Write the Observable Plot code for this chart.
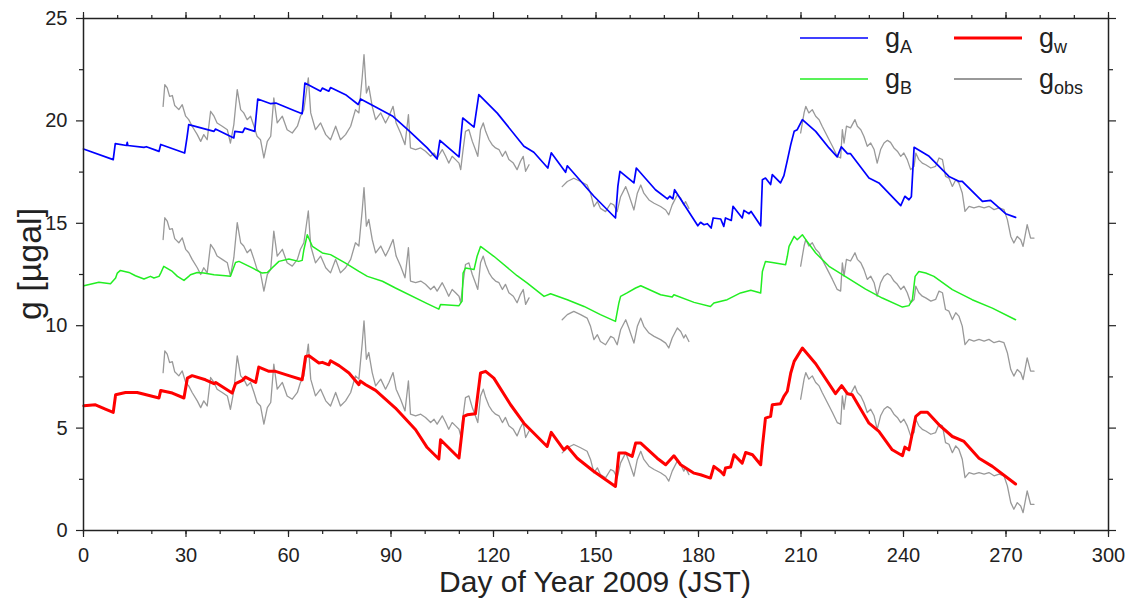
<!DOCTYPE html>
<html>
<head>
<meta charset="utf-8">
<script src="https://cdn.jsdelivr.net/npm/d3@7"></script>
<script src="https://cdn.jsdelivr.net/npm/@observablehq/plot@0.6"></script>
<style>
  html, body { margin: 0; padding: 0; background: #fff; }
  #chart { width: 1129px; height: 600px; }
</style>
</head>
<body>
<div id="chart"></div>
<script>
// ---- tick values ----
const dayTicks = [0, 30, 60, 90, 120, 150, 180, 210, 240, 270, 300];
const dayMinorTicks = [0, 10, 20, 30, 40, 50, 60, 70, 80, 90, 100, 110, 120, 130, 140, 150, 160, 170, 180, 190, 200, 210, 220, 230, 240, 250, 260, 270, 280, 290, 300];
const gTicks = [0, 5, 10, 15, 20, 25];
const gMinorTicks = [2.5, 7.5, 12.5, 17.5, 22.5];

// ---- series: [day, g] ----
const gA = [[0,18.63],[8.7,18.11],[9.3,18.89],[12.6,18.80],[12.8,18.95],[13.0,18.80],[17.7,18.71],[18.4,18.74],[21.5,18.55],[22.1,18.51],[22.6,18.85],[29.6,18.43],[30.3,19.2],[30.8,19.82],[38.2,19.49],[38.6,19.60],[44.0,19.17],[44.3,19.49],[46.6,19.44],[47.2,19.65],[50.1,19.49],[51.0,21.07],[54.8,20.84],[56.3,20.87],[61.6,20.51],[64.0,20.35],[64.8,21.85],[69.4,21.45],[69.9,21.60],[71.8,21.45],[72.3,21.63],[76.7,21.28],[80.4,20.80],[81.1,21.07],[85.5,20.68],[90.4,20.24],[95.3,19.51],[100.6,18.68],[103.5,18.14],[104.3,19.05],[109.9,18.24],[111.0,20.14],[114.3,19.70],[115.7,21.28],[121.1,20.38],[128.9,18.76],[131.8,18.47],[135.9,17.70],[136.9,18.44],[141.1,17.49],[141.6,17.81],[149.4,16.32],[155.7,15.26],[156.4,16.8],[157.0,17.54],[161.1,16.97],[161.8,17.70],[167.4,16.64],[170.9,16.19],[171.6,16.32],[172.5,16.19],[173.0,16.64],[179.8,14.88],[180.6,15.05],[181.6,14.93],[182.6,14.98],[183.7,14.77],[184.3,15.26],[186.5,15.21],[187.4,14.85],[187.9,15.26],[189.6,15.14],[190.1,15.83],[192.8,15.26],[193.3,15.63],[194.8,15.47],[195.4,15.58],[198.2,14.88],[198.7,17.13],[199.6,17.21],[201.1,16.89],[201.6,17.38],[204.0,16.97],[205.0,17.33],[206.0,18.07],[207.0,18.84],[208.0,19.49],[208.9,19.57],[210.4,20.06],[214.3,19.49],[218.2,18.68],[220.6,18.24],[221.8,18.73],[223.6,18.40],[224.5,18.40],[229.9,17.21],[232.8,16.97],[239.2,15.86],[240.4,16.32],[241.6,16.15],[242.3,16.3],[243.1,18.71],[247.5,18.27],[253.3,17.29],[256.2,17.05],[257.2,17.05],[263.1,16.07],[265.5,16.12],[269.9,15.47],[272.8,15.29]];

const gB = [[0.1,11.95],[4.5,12.12],[7.9,12.05],[9.4,12.33],[9.9,12.57],[10.8,12.70],[13.3,12.60],[15.2,12.44],[17.7,12.28],[19.6,12.41],[20.6,12.33],[22.1,12.41],[22.6,12.57],[23.5,12.90],[26.0,12.65],[27.5,12.41],[29.4,12.21],[30.8,12.41],[31.3,12.49],[33.3,12.60],[35.2,12.57],[38.2,12.49],[41.6,12.44],[43.0,12.41],[44.5,13.09],[45.5,13.14],[49.4,12.82],[52.3,12.57],[53.8,12.60],[57.2,13.14],[60.1,13.26],[63.0,13.14],[64.0,13.19],[64.5,13.71],[65.5,14.44],[67.0,13.87],[69.9,13.55],[72.3,13.47],[76.7,13.06],[80.6,12.65],[83.1,12.41],[87.5,12.17],[91.3,11.84],[100.6,11.08],[104.0,10.81],[104.5,11.03],[109.9,10.98],[110.8,11.2],[111.1,12.57],[111.8,12.82],[114.3,12.74],[115.2,13.39],[116.2,13.87],[120.1,13.39],[126.9,12.44],[129.9,12.08],[134.8,11.43],[136.7,11.56],[141.6,11.27],[146.5,10.94],[151.3,10.54],[155.7,10.21],[156.7,11.11],[157.2,11.43],[159.1,11.60],[161.6,11.84],[163.1,11.95],[168.9,11.51],[172.3,11.40],[172.8,11.51],[178.7,11.14],[183.5,10.94],[184.5,11.11],[188.4,11.27],[192.3,11.60],[195.3,11.73],[198.2,11.60],[198.7,12.65],[199.6,13.14],[201.6,13.09],[205.5,12.98],[206.0,13.39],[206.5,13.87],[208.0,14.36],[208.9,14.20],[210.4,14.44],[211.4,14.20],[214.3,13.55],[218.2,12.90],[222.1,12.49],[228.9,11.79],[233.8,11.35],[239.7,10.91],[241.6,10.98],[242.6,11.27],[243.4,12.41],[244.5,12.65],[246.5,12.57],[248.9,12.41],[254.3,11.76],[260.1,11.27],[266.0,10.86],[272.8,10.29]];

const gW = [[0.1,6.09],[3.5,6.14],[6.4,5.93],[8.7,5.77],[9.4,6.63],[12.3,6.74],[15.7,6.74],[17.2,6.68],[22.1,6.47],[22.6,6.84],[26.0,6.71],[29.4,6.47],[30.4,7.44],[31.8,7.56],[35.7,7.36],[38.2,7.17],[38.7,7.23],[43.5,6.71],[44.5,7.17],[46.5,7.33],[47.4,7.49],[50.4,7.23],[51.3,7.98],[54.3,7.77],[56.2,7.77],[60.1,7.56],[64.0,7.36],[65.0,8.50],[66.0,8.53],[68.9,8.18],[69.9,8.21],[71.8,8.09],[72.3,8.29],[74.8,8.05],[77.7,7.69],[80.6,7.12],[81.0,7.30],[82.6,7.12],[85.5,6.84],[91.3,5.98],[97.2,4.92],[100.6,4.05],[104.0,3.49],[104.5,4.43],[109.9,3.54],[111.3,5.57],[112.3,5.65],[114.7,5.70],[116.2,7.69],[117.7,7.77],[120.1,7.44],[125.0,6.14],[128.9,5.24],[130.8,4.92],[135.7,4.10],[136.9,4.79],[140.6,3.94],[141.6,4.10],[144.5,3.53],[149.4,2.88],[155.7,2.15],[156.7,3.78],[158.7,3.78],[160.6,3.62],[161.6,4.27],[163.1,4.27],[167.9,3.53],[170.4,3.21],[172.8,3.65],[174.8,3.21],[178.7,2.80],[180.6,2.72],[183.5,2.56],[184.5,3.13],[186.5,2.88],[187.4,2.72],[187.9,3.05],[189.4,3.10],[190.4,3.70],[192.8,3.29],[193.8,3.81],[195.8,3.70],[198.2,3.21],[198.7,4.10],[199.6,5.49],[201.1,5.57],[201.6,6.14],[204.0,6.19],[205.0,6.55],[206.0,6.80],[207.0,7.69],[208.0,8.26],[208.9,8.50],[210.4,8.91],[214.3,8.14],[220.1,6.68],[221.9,7.07],[223.6,6.68],[225.0,6.63],[229.9,5.24],[232.8,4.84],[236.7,3.94],[239.7,3.65],[240.4,4.07],[241.6,3.94],[242.6,4.76],[243.6,5.57],[245.0,5.77],[247.0,5.77],[250.4,5.16],[254.3,4.59],[257.7,4.35],[262.1,3.53],[266.0,3.13],[269.9,2.64],[272.8,2.27]];

// observed gravity (three recording periods)
const gObs1 = [[23.3,7.71],[23.8,8.77],[24.5,8.61],[25.2,8.20],[26.0,8.24],[26.7,7.75],[27.9,7.55],[28.9,7.79],[29.9,7.23],[30.8,7.06],[31.8,6.74],[33.3,6.33],[34.3,6.00],[35.2,6.33],[36.2,6.08],[37.2,7.47],[38.2,7.23],[39.1,6.90],[40.6,6.74],[42.1,6.57],[43.0,5.92],[44.0,6.82],[45.0,8.53],[46.0,7.55],[46.9,7.39],[47.9,7.06],[48.9,7.23],[49.9,6.74],[50.8,6.25],[51.8,6.08],[52.8,5.19],[53.8,6.00],[54.8,6.25],[55.7,8.12],[56.7,6.90],[58.2,7.23],[59.6,6.57],[61.1,6.41],[62.6,6.74],[63.5,7.23],[64.5,7.55],[65.8,9.10],[66.5,7.39],[67.9,6.57],[69.4,6.90],[70.9,6.33],[72.3,6.08],[73.8,6.74],[75.2,6.08],[76.7,6.33],[78.2,6.74],[79.6,7.55],[80.6,7.39],[81.6,9.18],[82.1,10.24],[82.8,8.36],[83.5,8.69],[84.5,7.71],[85.5,7.06],[87.0,7.39],[88.4,6.90],[89.4,7.23],[90.6,7.71],[91.5,6.90],[92.8,6.41],[94.1,5.84],[95.1,7.31],[95.7,5.68],[97.2,5.60],[98.7,5.68],[100.1,5.52],[101.6,5.27],[102.6,5.43],[103.5,5.19],[105.0,5.60],[106.0,5.27],[106.9,4.94],[107.9,5.27],[108.9,5.11],[109.9,4.94],[110.4,4.62],[111.1,5.60],[111.8,6.49],[112.8,6.57],[113.8,6.00],[114.7,5.60],[115.4,5.27],[116.2,6.57],[117.0,6.90],[117.7,6.49],[118.7,6.08],[119.6,5.84],[120.6,5.68],[121.6,5.60],[122.6,5.27],[123.5,5.52],[124.5,5.11],[125.8,4.94],[126.9,4.62],[127.9,5.03],[128.7,5.27],[129.4,4.54],[130.4,4.86]];
const gObs2 = [[140.1,3.79],[141.6,4.04],[143.5,4.20],[145.5,4.04],[147.4,3.87],[148.4,3.47],[149.4,2.82],[150.4,3.06],[151.3,2.73],[152.8,2.57],[154.3,2.98],[155.2,2.90],[156.2,2.57],[157.2,3.30],[158.7,3.79],[159.6,3.39],[161.1,2.65],[162.1,3.47],[163.1,3.87],[164.0,3.47],[165.5,3.14],[167.0,2.98],[168.9,2.82],[170.4,2.65],[171.3,2.41],[172.3,2.90],[173.8,3.39],[174.8,3.22],[175.7,2.90],[176.2,3.06],[177.2,2.73]];
const gObs3 = [[209.9,6.41],[210.9,7.39],[211.4,7.71],[212.3,7.39],[213.3,7.55],[214.3,7.23],[215.3,7.06],[216.2,6.74],[217.7,6.25],[219.2,5.76],[220.6,5.27],[221.6,5.19],[222.1,6.57],[222.6,5.92],[223.3,6.74],[224.5,6.66],[225.8,7.06],[226.5,6.74],[227.5,6.57],[228.4,6.25],[229.4,5.76],[230.4,5.92],[231.4,5.60],[232.3,4.94],[233.3,5.60],[234.3,5.92],[235.3,6.05],[236.2,5.95],[237.2,5.68],[238.2,5.52],[239.2,5.27],[240.1,5.43],[241.1,5.11],[242.1,4.62],[243.1,4.78],[243.6,5.43],[244.5,5.11],[245.5,4.94],[246.5,4.86],[248.0,4.70],[249.4,4.78],[250.4,5.19],[251.4,5.11],[252.3,4.29],[253.3,4.21],[254.3,3.80],[255.3,4.13],[256.2,3.97],[257.2,3.48],[258.0,2.58],[259.2,2.83],[260.6,2.75],[262.1,2.83],[263.6,2.75],[265.0,2.83],[266.5,2.67],[268.0,2.75],[269.4,2.67],[270.4,2.18],[271.4,1.36],[272.3,1.04],[273.3,1.36],[274.3,1.20],[275.0,0.87],[276.2,1.93],[277.2,1.28],[278.2,1.28]];
// g_obs is drawn three times, shifted to sit beside g_A, g_B and g_w
const gObsOffsets = [13, 6.5, 0];

// ---- build tables ----
const toRows = (arr, extra = {}) => arr.map(([day, g]) => ({day, g, ...extra}));
const obsRows = [];
gObsOffsets.forEach((off, i) => {
  [gObs1, gObs2, gObs3].forEach((seg, j) => {
    seg.forEach(([day, g]) => obsRows.push({day, g: g + off, key: `${i}-${j}`}));
  });
});

const ink = "#222";
const lineOpts = {x: "day", y: "g", strokeLinejoin: "round", strokeLinecap: "round"};

const chart = Plot.plot({
  width: 1129,
  height: 600,
  marginLeft: 83,
  marginRight: 21,
  marginTop: 18,
  marginBottom: 70,
  style: {fontFamily: "'Liberation Sans', Arial, Helvetica, sans-serif", color: ink, background: "#fff"},
  x: {domain: [0, 300], label: null},
  y: {domain: [0, 25], label: null},
  marks: [
    Plot.line(obsRows, {...lineOpts, z: "key", stroke: "#999999", strokeWidth: 1.3}),
    Plot.line(toRows(gB), {...lineOpts, stroke: "#22ee22", strokeWidth: 1.5}),
    Plot.line(toRows(gA), {...lineOpts, stroke: "#0000ff", strokeWidth: 1.7}),
    Plot.line(toRows(gW), {...lineOpts, stroke: "#ff0000", strokeWidth: 3}),
    // axes: bottom
    Plot.axisX(dayMinorTicks, {anchor: "bottom", tickSize: 4, fill: "none", label: null, stroke: ink, strokeWidth: 1.2}),
    Plot.axisX(dayTicks, {anchor: "bottom", tickSize: 7, tickPadding: 10, fontSize: 20, label: null, stroke: ink, fill: ink, strokeWidth: 1.2}),
    // top
    Plot.axisX(dayMinorTicks, {anchor: "top", tickSize: 4, fill: "none", label: null, stroke: ink, strokeWidth: 1.2}),
    Plot.axisX(dayTicks, {anchor: "top", tickSize: 7, fill: "none", label: null, stroke: ink, strokeWidth: 1.2}),
    // left
    Plot.axisY(gMinorTicks, {anchor: "left", tickSize: 4, fill: "none", label: null, stroke: ink, strokeWidth: 1.2}),
    Plot.axisY(gTicks, {anchor: "left", tickSize: 7, tickPadding: 9, fontSize: 20, label: null, stroke: ink, fill: ink, strokeWidth: 1.2}),
    // right
    Plot.axisY(gMinorTicks, {anchor: "right", tickSize: 4, fill: "none", label: null, stroke: ink, strokeWidth: 1.2}),
    Plot.axisY(gTicks, {anchor: "right", tickSize: 7, fill: "none", label: null, stroke: ink, strokeWidth: 1.2}),
    Plot.frame({stroke: ink, strokeWidth: 1.5})
  ]
});

const svg = d3.select(chart);
// axis titles
svg.append("text")
  .attr("x", 595).attr("y", 592)
  .attr("text-anchor", "middle")
  .attr("font-size", 30).attr("fill", ink)
  .text("Day of Year 2009 (JST)");
svg.append("text")
  .attr("transform", "translate(41,264) rotate(-90)")
  .attr("text-anchor", "middle")
  .attr("font-size", 34).attr("fill", ink)
  .text("g [µgal]");

// legend
const legendItems = [
  {name: "g", sub: "A", color: "#0000ff", width: 1.5, x: 800, y: 38},
  {name: "g", sub: "B", color: "#22ee22", width: 1.5, x: 800, y: 79},
  {name: "g", sub: "w", color: "#ff0000", width: 3, x: 954, y: 38},
  {name: "g", sub: "obs", color: "#999999", width: 2, x: 954, y: 79}
];
const lg = svg.append("g").attr("text-anchor", "start");
legendItems.forEach(d => {
  lg.append("line").attr("x1", d.x).attr("x2", d.x + 68).attr("y1", d.y).attr("y2", d.y)
    .attr("stroke", d.color).attr("stroke-width", d.width);
  const t = lg.append("text").attr("x", d.x + 85).attr("y", d.y + 9)
    .attr("text-anchor", "start").attr("fill", ink).attr("font-size", 27);
  t.append("tspan").text(d.name);
  t.append("tspan").attr("font-size", 18).attr("dy", 6).text(d.sub);
});

document.getElementById("chart").appendChild(chart);
</script>
</body>
</html>
